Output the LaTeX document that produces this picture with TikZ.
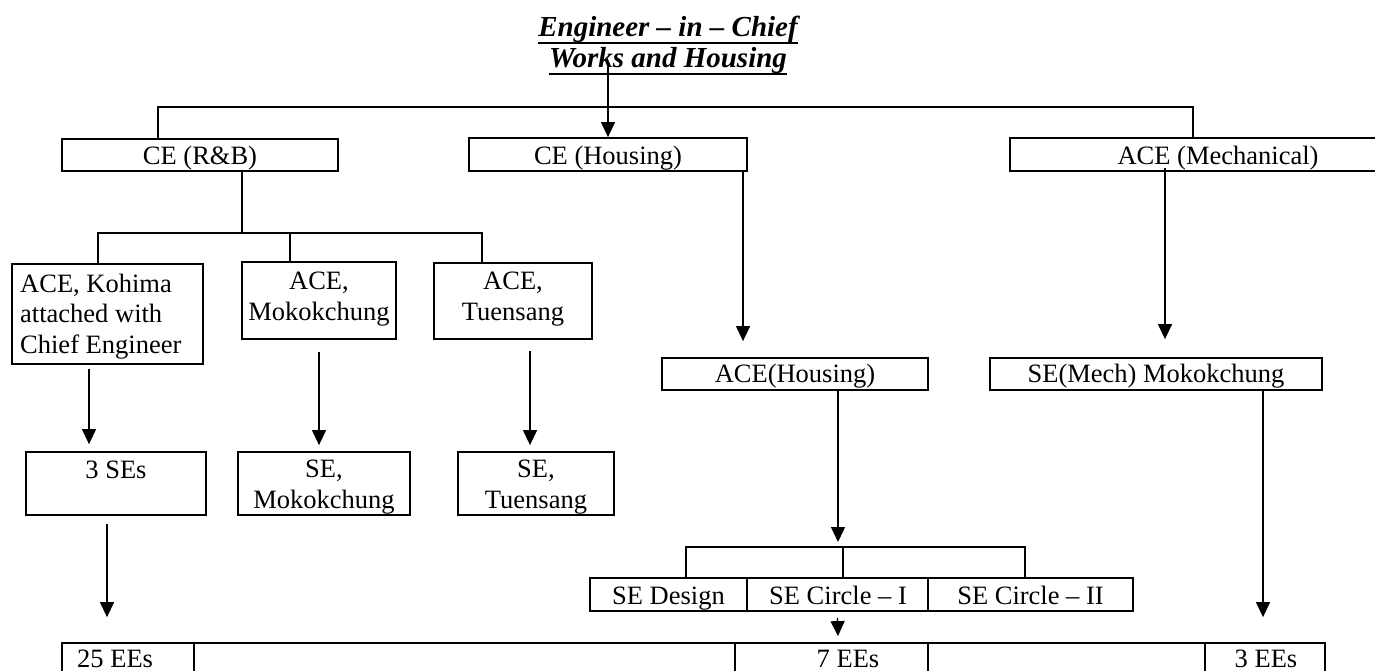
\documentclass[tikz,border=0pt]{standalone}
\usepackage{fontspec}
\setmainfont{Liberation Serif}
\usetikzlibrary{arrows.meta}
\begin{document}
\begin{tikzpicture}[x=1pt,y=-1pt,
  box/.style={draw, line width=1.8pt, inner sep=0pt, anchor=center},
  txt/.style={inner sep=0pt, font=\fontsize{26.5}{30.5}\selectfont, align=center, anchor=base},
  conn/.style={line width=1.8pt},
  arr/.style={line width=1.3pt, -{Triangle[width=14pt,length=15pt]}},
  ttl/.style={inner sep=0pt, font=\fontsize{29}{30}\selectfont\bfseries\itshape, anchor=base},
  uline/.style={line width=1.8pt}]
\path[use as bounding box, fill=white] (0,0) rectangle (1375,670);

% title
\node[ttl] (eic) at (668,36) {Engineer – in – Chief};
\node[ttl] (wh) at (668,67) {Works and Housing};
\draw[uline] ([yshift=-7pt]eic.base west) -- ([yshift=-7pt]eic.base east);
\draw[uline] ([yshift=-7pt]wh.base west) -- ([yshift=-7pt]wh.base east);

% level 1 boxes
\node[box, minimum width=276pt, minimum height=32pt] (cerb) at (200,155) {};
\node[box, minimum width=278pt, minimum height=33pt] (ceh) at (608,154.5) {};
\node[box, minimum width=426pt, minimum height=33pt] (acem) at (1223,154.5) {};
\node[txt] (tcerb) at (200,164) {CE (R\&B)};
\node[txt] (tceh) at (608,164) {CE (Housing)};
\node[txt] (tacem) at (1218,164) {ACE (Mechanical)};

% level 2 (R&B)
\node[box, minimum width=191pt, minimum height=100pt] (acek) at (107.5,314) {};
\node[box, minimum width=154pt, minimum height=77pt] (acemok) at (319,300.5) {};
\node[box, minimum width=158pt, minimum height=76pt] (acet) at (513,301) {};
\node[txt, align=left, anchor=base west] (tacek) at (20,353) {ACE, Kohima\\attached with\\Chief Engineer};
\node[txt] (tacemok) at (319,320) {ACE,\\Mokokchung};
\node[txt] (tacet) at (513,320) {ACE,\\Tuensang};

% level 3 (R&B)
\node[box, minimum width=180pt, minimum height=63pt] (ses3) at (116,483.5) {};
\node[box, minimum width=172pt, minimum height=63pt] (semok) at (324,483.5) {};
\node[box, minimum width=156pt, minimum height=63pt] (set) at (536,483.5) {};
\node[txt] (tses3) at (116,478) {3 SEs};
\node[txt] (tsemok) at (324,508) {SE,\\Mokokchung};
\node[txt] (tset) at (536,508) {SE,\\Tuensang};

% housing / mech level
\node[box, minimum width=266pt, minimum height=32pt] (aceh) at (795,374) {};
\node[box, minimum width=332pt, minimum height=32pt] (semech) at (1156,374) {};
\node[txt] (taceh) at (795,382) {ACE(Housing)};
\node[txt] (tsemech) at (1156,382) {SE(Mech) Mokokchung};

% SE row
\node[box, minimum width=157pt, minimum height=33pt] (sed) at (668.5,594.5) {};
\node[box, minimum width=181pt, minimum height=33pt] (sec1) at (837.5,594.5) {};
\node[box, minimum width=205pt, minimum height=33pt] (sec2) at (1030.5,594.5) {};
\node[txt] (tsed) at (668.5,604) {SE Design};
\node[txt] (tsec1) at (838,604) {SE Circle – I};
\node[txt] (tsec2) at (1030.5,604) {SE Circle – II};

% bottom row
\node[box, minimum width=132pt, minimum height=57pt] (ee25) at (128,671.5) {};
\node[box, minimum width=541pt, minimum height=57pt] (bl1) at (464.5,671.5) {};
\node[box, minimum width=193pt, minimum height=57pt] (ee7) at (831.5,671.5) {};
\node[box, minimum width=277pt, minimum height=57pt] (bl2) at (1066.5,671.5) {};
\node[box, minimum width=120pt, minimum height=57pt] (ee3) at (1265,671.5) {};
\node[txt, anchor=base west] (tee25) at (77,667) {25 EEs};
\node[txt] (tee7) at (848,667) {7 EEs};
\node[txt] (tee3) at (1266,667) {3 EEs};

% tree connectors
\coordinate (hb) at (668,107);
\draw[conn] ([xshift=-42pt]cerb.north) |- (hb) -| ([xshift=-30pt]acem.north);
\coordinate (hr) at (242,233);
\draw[conn] ([xshift=42pt]cerb.south) -- (hr);
\draw[conn] ([xshift=-9.5pt]acek.north) |- (hr) -| ([xshift=-31pt]acet.north);
\draw[conn] ([xshift=-29pt]acemok.north) -- ++(0,-29);
\coordinate (hbr) at (843,547);
\draw[conn] ([xshift=17.5pt]sed.north) |- (hbr) -| ([xshift=-5.5pt]sec2.north);
\draw[conn] ([xshift=5.5pt]sec1.north) -- (hbr);

% arrows
\draw[arr] ([xshift=-60pt]wh.base) -- (ceh.north);
\draw[arr] ([xshift=135pt]ceh.south) -- ([xshift=-52pt,yshift=16pt]aceh.north);
\draw[arr] ([xshift=-58pt,yshift=4pt]acem.south) -- ([xshift=9pt,yshift=18pt]semech.north);
\draw[arr] ([xshift=43pt]aceh.south) -- ([xshift=-5pt,yshift=5pt]hbr);
\draw[arr] ([yshift=-6pt]sec1.south) -- ([xshift=6.5pt,yshift=6pt]ee7.north);
\draw[arr] ([xshift=107pt]semech.south) -- ([xshift=-2pt,yshift=25pt]ee3.north);
\draw[arr] ([xshift=-18.5pt,yshift=-4pt]acek.south) -- ([xshift=-27pt,yshift=7pt]ses3.north);
\draw[arr] ([yshift=-12pt]acemok.south) -- ([xshift=-5pt,yshift=6pt]semok.north);
\draw[arr] ([xshift=17pt,yshift=-11pt]acet.south) -- ([xshift=-6pt,yshift=6pt]set.north);
\draw[arr] ([xshift=-9pt,yshift=-8pt]ses3.south) -- ([xshift=-21pt,yshift=25pt]ee25.north);
\end{tikzpicture}
\end{document}
